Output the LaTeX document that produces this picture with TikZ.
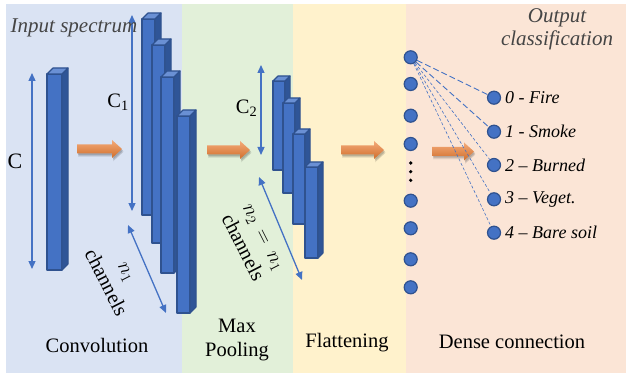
\documentclass[tikz,border=0pt]{standalone}
\usepackage{fontspec}
\setmainfont{Liberation Serif}
\usetikzlibrary{arrows.meta}

\definecolor{convbg}{HTML}{DAE3F3}
\definecolor{poolbg}{HTML}{E2F0D9}
\definecolor{flatbg}{HTML}{FFF2CC}
\definecolor{densebg}{HTML}{FBE5D6}
\definecolor{barfront}{HTML}{4472C4}
\definecolor{barside}{HTML}{2F5597}
\definecolor{bartop}{HTML}{6A90D4}
\definecolor{barline}{HTML}{2F528F}
\definecolor{dimblue}{HTML}{4472C4}
\definecolor{flowor}{HTML}{ED7D31}
\definecolor{titlegray}{HTML}{454545}

% a feature-map bar drawn as a prism: x, top, bottom, width, depth
\newcommand\prismbar[5]{%
  \filldraw[fill=barfront, draw=barline, line width=1.1pt, line join=round]
    (#1,#2) rectangle ({#1+#4},#3);
  \filldraw[fill=barside, draw=barline, line width=1.1pt, line join=round]
    ({#1+#4},#2) -- ({#1+#4+#5},{#2-#5}) -- ({#1+#4+#5},{#3-#5}) -- ({#1+#4},#3) -- cycle;
  \filldraw[fill=bartop, draw=barline, line width=1.1pt, line join=round]
    (#1,#2) -- ({#1+#5},{#2-#5}) -- ({#1+#4+#5},{#2-#5}) -- ({#1+#4},#2) -- cycle;
}

% block arrow between stages: name, left x, tip x, centre y
\newcommand\flowarrow[4]{%
  \coordinate (#1) at ({(#2+#3)/2},#4);
  \foreach \dx/\dy/\op in {1/3.5/0.07, 1.5/2.5/0.1, 1/1.5/0.12}{
    \fill[black, opacity=\op]
      ({#2+\dx},{#4-4.5+\dy}) -- ({#3-10+\dx},{#4-4.5+\dy}) -- ({#3-10+\dx},{#4-9+\dy})
      -- ({#3+\dx},{#4+\dy}) -- ({#3-10+\dx},{#4+9+\dy}) -- ({#3-10+\dx},{#4+4.5+\dy})
      -- ({#2+\dx},{#4+4.5+\dy}) -- cycle;
  }
  \shade[top color=flowor!65!white, middle color=flowor, bottom color=flowor!88!black]
    (#2,{#4-4.5}) -- ({#3-10},{#4-4.5}) -- ({#3-10},{#4-9}) -- (#3,#4)
    -- ({#3-10},{#4+9}) -- ({#3-10},{#4+4.5}) -- (#2,{#4+4.5}) -- cycle;
}

\tikzset{
  lbl/.style={inner sep=0pt, font=\fontsize{20.5}{24}\selectfont, align=center},
  title/.style={inner sep=0pt, font=\fontsize{21}{23}\selectfont\itshape, text=titlegray, align=center},
  dimarrow/.style={draw=dimblue, line width=1.3pt,
    {Triangle[length=8pt,width=7pt]}-{Triangle[length=8pt,width=7pt]}},
  neuron/.style={circle, minimum size=13pt, inner sep=0pt, fill=barfront, draw=barline, line width=1.2pt},
  dotmark/.style={circle, minimum size=3.6pt, inner sep=0pt, fill=black},
  classlbl/.style={anchor=west, inner sep=0pt, font=\fontsize{18}{20}\selectfont\itshape},
  linkbig/.style={draw=dimblue, line width=0.9pt, dash pattern=on 6pt off 3pt},
  linksmall/.style={draw=dimblue, line width=0.6pt, dash pattern=on 3pt off 2pt},
}

\begin{document}
\begin{tikzpicture}[x=1pt,y=-1pt]
\useasboundingbox (0,0) rectangle (626,374);

% stage backgrounds
\fill[convbg]  (6,4)   rectangle (182,373);
\fill[poolbg]  (182,4) rectangle (293,373);
\fill[flatbg]  (293,4) rectangle (406,373);
\fill[densebg] (406,4) rectangle (626,373);

% input spectrum
\prismbar{47}{74}{270}{15}{6}

% convolution feature maps
\prismbar{142}{19}{215}{13}{6}
\prismbar{152}{45}{243}{13}{6}
\prismbar{161}{77}{273}{13}{6}
\prismbar{177}{116}{313}{13}{6}

% pooled feature maps
\prismbar{273}{81}{170}{12}{5}
\prismbar{283}{103}{193}{12}{5}
\prismbar{293}{134}{224}{12}{5}
\prismbar{305}{167}{258}{13}{5}

% dimension arrows
\coordinate (cTop) at (32,73);   \coordinate (cBot) at (32,269);
\coordinate (c1Top) at (132,15); \coordinate (c1Bot) at (132,211);
\coordinate (c2Top) at (261,65); \coordinate (c2Bot) at (261,155);
\coordinate (n1A) at (128,225);  \coordinate (n1B) at (166,313);
\coordinate (n2A) at (259,177);  \coordinate (n2B) at (302,280);
\draw[dimarrow] (cTop) -- (cBot);
\draw[dimarrow] (c1Top) -- (c1Bot);
\draw[dimarrow] (c2Top) -- (c2Bot);
\draw[dimarrow] (n1A) -- (n1B);
\draw[dimarrow] (n2A) -- (n2B);

\node[lbl, font=\fontsize{22}{24}\selectfont] (labC) at (15,161) {C};
\node[lbl] (labC1) at (118,102) {C\textsubscript{1}};
\node[lbl] (labC2) at (246.5,108) {C\textsubscript{2}};
\node[lbl, rotate=-63] (labN1) at (115,278) {$n_1$\\channels};
\node[lbl, rotate=-63] (labN2) at (252,243) {$n_2\,=\,n_1$\\channels};

% flow arrows between stages
\flowarrow{f1}{77}{122}{149}
\flowarrow{f2}{207}{250}{150}
\flowarrow{f3}{341}{384}{150}
\flowarrow{f4}{432}{474}{151.5}

% flattened vector
\node[neuron] (d1) at (410.7,57.3) {};
\node[neuron] (d2) at (410.7,84) {};
\node[neuron] (d3) at (410.7,115.7) {};
\node[neuron] (d4) at (410.7,144) {};
\node[dotmark] (e1) at (410.7,163) {};
\node[dotmark] (e2) at (410.7,171.7) {};
\node[dotmark] (e3) at (410.7,180.3) {};
\node[neuron] (d5) at (410.7,200.7) {};
\node[neuron] (d6) at (410.7,228.3) {};
\node[neuron] (d7) at (410.7,259.3) {};
\node[neuron] (d8) at (410.7,287.3) {};

% output classes
\node[neuron] (o0) at (494,97.7) {};
\node[neuron] (o1) at (494,131.7) {};
\node[neuron] (o2) at (494,165) {};
\node[neuron] (o3) at (494,199.3) {};
\node[neuron] (o4) at (494,232.7) {};

\draw[linkbig] (d1) -- (o0);
\draw[linkbig] (d1) -- (o1);
\draw[linksmall] (d1) -- (o2);
\draw[linksmall] (d1) -- (o3);
\draw[linksmall] (d1) -- (o4);

\node[classlbl] (t0) at (505,97.7) {0 - Fire};
\node[classlbl] (t1) at (505,131.7) {1 - Smoke};
\node[classlbl] (t2) at (505,165) {2 – Burned};
\node[classlbl] (t3) at (505,199.3) {3 – Veget.};
\node[classlbl] (t4) at (505,232.7) {4 – Bare soil};

% stage captions
\node[title] (inTitle) at (74,28) {Input spectrum};
\node[title] (outTitle) at (557,29) {Output\\classification};
\node[lbl] (capConv) at (97,345) {Convolution};
\node[lbl] (capPool) at (237,340) {Max\\Pooling};
\node[lbl] (capFlat) at (347,343) {Flattening};
\node[lbl] (capDense) at (512,342) {Dense connection};
\end{tikzpicture}
\end{document}
